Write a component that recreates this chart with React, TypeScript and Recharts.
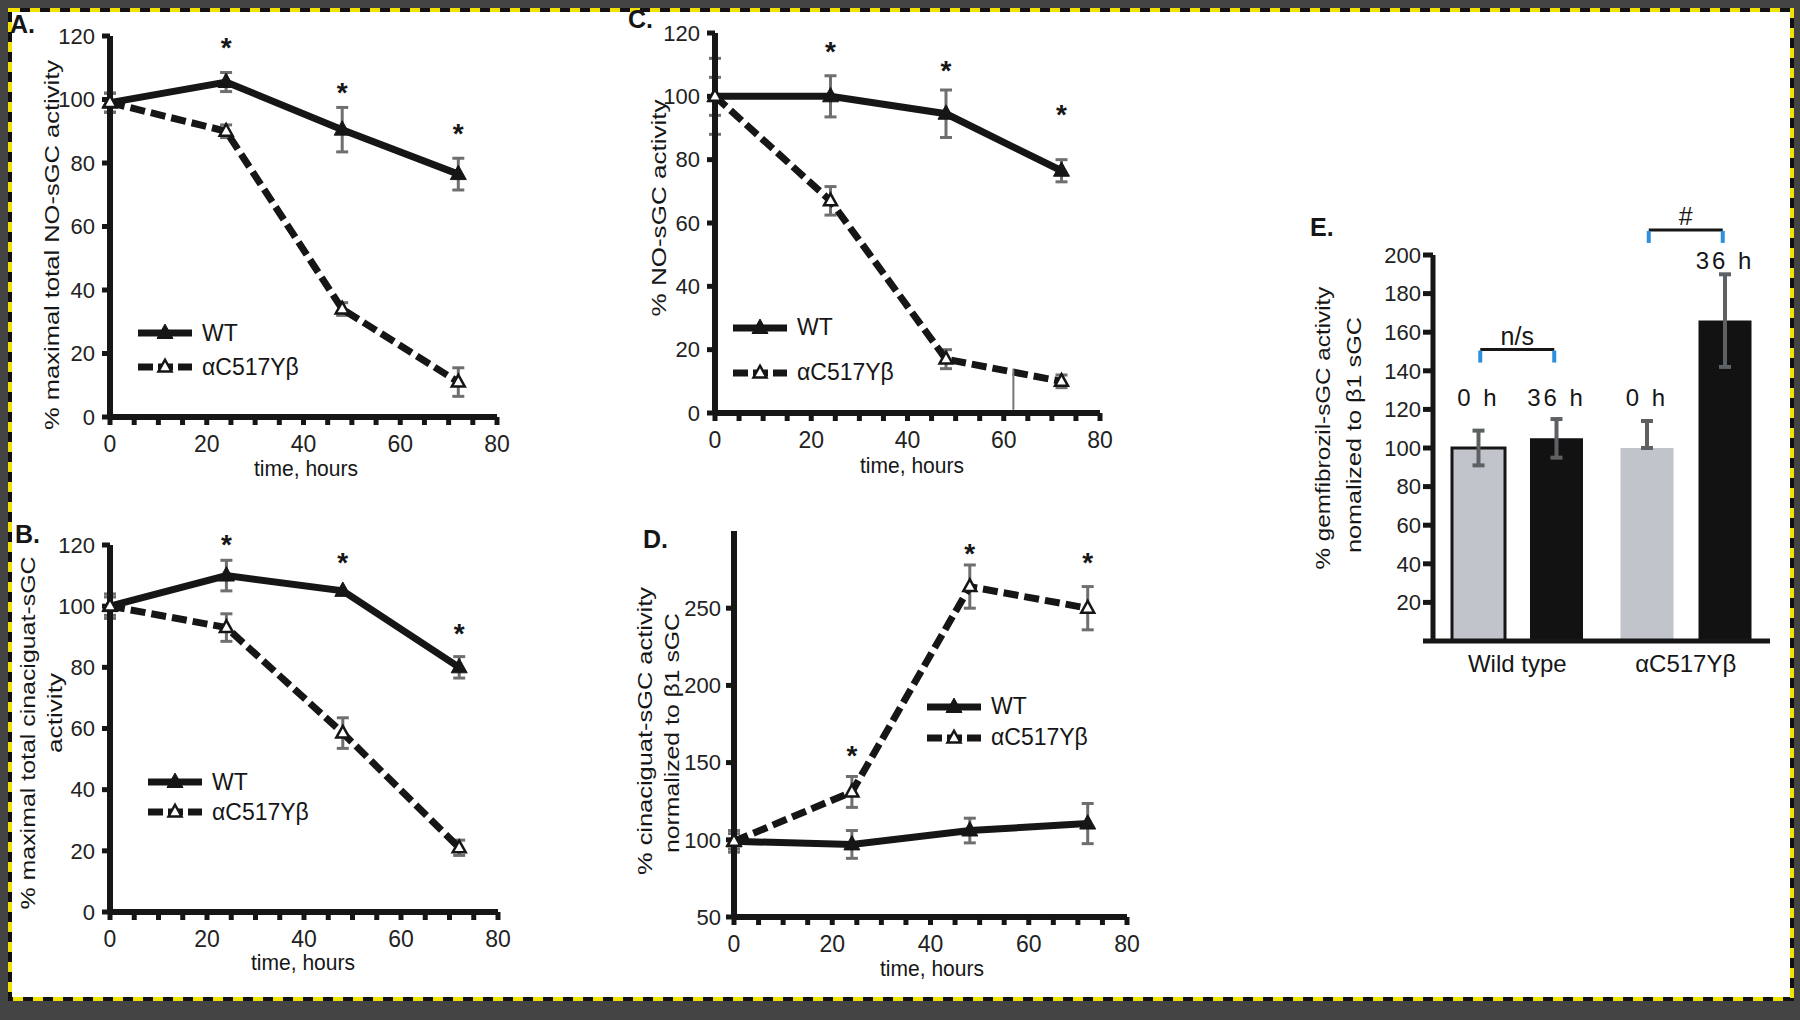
import React from 'react';
import {
  ComposedChart, Line, Bar, Cell, XAxis, YAxis, ErrorBar,
  ReferenceDot, ReferenceLine, Legend,
} from 'recharts';

const FONT = '"Liberation Sans", Arial, Helvetica, sans-serif';
const INK = '#161616';
const ERR = '#6d6f70';
const BLUE = '#2e8fdc';
const GREY_BAR = '#c1c4cb';

// shared
const hours = [0, 24, 48, 72];
const starHours = [24, 48, 72];
const xTicks = [0, 5, 10, 15, 20, 25, 30, 35, 40, 45, 50, 55, 60, 65, 70, 75, 80];
const xLabelled = [0, 20, 40, 60, 80];
const seriesNames = ['WT', 'αC517Yβ'];
const pctTicks = [0, 20, 40, 60, 80, 100, 120];

// A. % maximal total NO-sGC activity
const aWt = [99, 105.5, 90.5, 76.5];
const aWtErr = [3, 3, 7, 5];
const aMut = [99, 90, 34, 11];
const aMutErr = [3, 2, 2, 4.5];
const aStars = [118, 104, 91];

// B. % maximal total cinaciguat-sGC activity
const bWt = [100, 110, 105, 80];
const bWtErr = [4, 5, 0, 3.5];
const bMut = [100, 93, 58.5, 21];
const bMutErr = [3, 4.5, 5, 2.5];
const bStars = [122, 116, 93];

// C. % NO-sGC activity
const cWt = [100, 100, 94.5, 76.5];
const cWtErr = [12, 6.5, 7.5, 3.5];
const cMut = [100, 67, 17, 10];
const cMutErr = [6, 4.5, 3, 2];
const cStars = [116, 110, 96];
const cStrayAt = 62;
const cStray = [1, 14];

// D. % cinaciguat-sGC activity normalized to b1 sGC
const dWt = [99, 97, 106, 110.5];
const dWtErr = [7, 9, 8, 13];
const dMut = [99, 131, 264, 250];
const dMutErr = [5, 10, 14, 14];
const dStars = [158, 289, 283];
const dTicks = [50, 100, 150, 200, 250];

// E. gemfibrozil bars
const groups = ['Wild type', 'αC517Yβ'];
const h0 = [100, 100];
const h0Err: (number | number[])[] = [9, [0, 14]];
const h36 = [105, 166];
const h36Err = [10, 24];
const h0LabelAt = [126, 126];
const h36LabelAt = [126, 197];
const bracketAt = [151, 213];
const bracketMarks = ['n/s', '#'];
const eTicks = [0, 20, 40, 60, 80, 100, 120, 140, 160, 180, 200];
const h0Outline = [INK, 'none'];

const rows = (wt: number[], wtErr: number[], mut: number[], mutErr: number[]) =>
  hours.map((h, i) => ({ h, wt: wt[i], wtErr: wtErr[i], mut: mut[i], mutErr: mutErr[i] }));

const eRows = groups.map((cat, i) => ({ cat, h0: h0[i], h0Err: h0Err[i], h36: h36[i], h36Err: h36Err[i] }));

function Tri({ cx, cy, size, filled }: { cx?: number; cy?: number; size: number; filled: boolean }) {
  if (cx == null || cy == null) return null;
  const h = size * 0.9;
  const pts = `${cx},${cy - h * 0.62} ${cx - size / 2},${cy + h * 0.38} ${cx + size / 2},${cy + h * 0.38}`;
  return <polygon points={pts} fill={filled ? INK : '#fff'} stroke={INK} strokeWidth={filled ? 1 : 2.5} />;
}

type Title = { text: string; x: number; y: number; len: number };

const titles = (items: Title[], rotate: boolean, size = 21) => () => (
  <g>
    {items.map((t) => (
      <text
        key={t.text}
        x={t.x}
        y={t.y}
        transform={rotate ? `rotate(-90 ${t.x} ${t.y})` : undefined}
        textAnchor="middle"
        dominantBaseline="central"
        fontFamily={FONT}
        fontSize={size}
        fill={INK}
        textLength={t.len}
        lengthAdjust="spacingAndGlyphs"
      >
        {t.text}
      </text>
    ))}
  </g>
);

function LegendRows({ row }: { row: number }) {
  return (
    <div style={{ fontFamily: FONT, fontSize: 23, color: INK, lineHeight: 1 }}>
      {seriesNames.map((name, i) => (
        <div key={name} style={{ display: 'flex', alignItems: 'center', height: row }}>
          <svg width={54} height={24} style={{ display: 'block' }}>
            <line x1={0} y1={12} x2={54} y2={12} stroke={INK} strokeWidth={7}
              strokeDasharray={i ? '15 5' : undefined} />
            <Tri cx={27} cy={12} size={i ? 13 : 16} filled={i === 0} />
          </svg>
          <span style={{ marginLeft: 10 }}>{name}</span>
        </div>
      ))}
    </div>
  );
}

const star = (p: any) => (
  <text x={p.cx} y={p.cy + 15} textAnchor="middle" fontFamily={FONT} fontSize={28} fontWeight="bold" fill={INK}>*</text>
);

function TimePanel(props: any) {
  const { pos, margin, yWidth, xHeight, data, yDomain, yTicks, yTickMargin, stars, yTitle, xTitle, legend, children } = props;
  return (
    <div style={{ position: 'absolute', left: pos.left, top: pos.top }}>
      <ComposedChart width={pos.width} height={pos.height} data={data} margin={margin}>
        <XAxis
          type="number" dataKey="h" domain={[0, 80]} ticks={xTicks} interval={0} height={xHeight}
          tickSize={8} tickMargin={11}
          tickFormatter={(v: number) => (xLabelled.includes(v) ? String(v) : '')}
          axisLine={{ stroke: INK, strokeWidth: 6 }} tickLine={{ stroke: INK, strokeWidth: 5 }}
          tick={{ fill: '#222', fontSize: 23, fontFamily: FONT }}
          label={titles([{ text: 'time, hours', x: xTitle.x, y: xTitle.y, len: 104 }], false, 22)}
        />
        <YAxis
          type="number" domain={yDomain} ticks={yTicks} interval={0} width={yWidth} allowDataOverflow
          tickSize={8} tickMargin={yTickMargin}
          axisLine={{ stroke: INK, strokeWidth: 6 }} tickLine={{ stroke: INK, strokeWidth: 5 }}
          tick={{ fill: '#222', fontSize: 22, fontFamily: FONT }}
          label={titles(yTitle, true)}
        />
        <Line
          type="linear" dataKey="wt" stroke={INK} strokeWidth={7} isAnimationActive={false} activeDot={false}
          dot={(p: any) => <Tri key={`wt-${p.index}`} cx={p.cx} cy={p.cy} size={16} filled />}
        >
          <ErrorBar dataKey="wtErr" direction="y" width={6} strokeWidth={3} stroke={ERR} isAnimationActive={false} />
        </Line>
        <Line
          type="linear" dataKey="mut" stroke={INK} strokeWidth={7} strokeDasharray="15 6"
          isAnimationActive={false} activeDot={false}
          dot={(p: any) => <Tri key={`mut-${p.index}`} cx={p.cx} cy={p.cy} size={13} filled={false} />}
        >
          <ErrorBar dataKey="mutErr" direction="y" width={6} strokeWidth={3} stroke={ERR} isAnimationActive={false} />
        </Line>
        {starHours.map((h, i) => (
          <ReferenceDot key={`s${h}`} x={h} y={stars[i]} ifOverflow="visible" shape={star} />
        ))}
        {children}
        <Legend
          layout="vertical" align="center" verticalAlign="middle"
          wrapperStyle={{ left: legend.left, top: legend.top, width: 240, height: legend.row * 2 }}
          content={() => <LegendRows row={legend.row} />}
        />
      </ComposedChart>
    </div>
  );
}

const barTag = (tag: string, at: number[]) => (p: any) => {
  const vb = p.viewBox && p.viewBox.width != null ? p.viewBox : p;
  const raw = Array.isArray(p.value) ? p.value[1] : p.value;
  const base = vb.y + vb.height;
  const py = base - (at[p.index] * vb.height) / raw;
  return (
    <text key={`${tag}-${p.index}`} x={vb.x + vb.width / 2} y={py} textAnchor="middle" dominantBaseline="central"
      fontFamily={FONT} fontSize={24} letterSpacing={3} fill={INK}>
      {tag}
    </text>
  );
};

const bracket = (mark: string) => (p: any) => (
  <g>
    <line x1={p.cx - 37} x2={p.cx + 37} y1={p.cy} y2={p.cy} stroke={INK} strokeWidth={3} />
    <line x1={p.cx - 37} x2={p.cx - 37} y1={p.cy + 1} y2={p.cy + 13} stroke={BLUE} strokeWidth={4} />
    <line x1={p.cx + 37} x2={p.cx + 37} y1={p.cy + 1} y2={p.cy + 13} stroke={BLUE} strokeWidth={4} />
    <text x={p.cx} y={p.cy - 5} textAnchor="middle" fontFamily={FONT} fontSize={25} fill={INK}>{mark}</text>
  </g>
);

function BarPanel() {
  return (
    <div style={{ position: 'absolute', left: 1260, top: 200 }}>
      <ComposedChart width={530} height={500} data={eRows} margin={{ top: 55, right: 20, bottom: 9, left: 0 }} barGap={25}>
        <XAxis
          type="category" dataKey="cat" height={50} tickLine={false} tickSize={0} tickMargin={14}
          axisLine={{ stroke: INK, strokeWidth: 5 }}
          tick={{ fill: INK, fontSize: 24, fontFamily: FONT }}
        />
        <YAxis
          type="number" domain={[0, 200]} ticks={eTicks} interval={0} width={173}
          tickSize={10} tickMargin={2} tickFormatter={(v: number) => (v === 0 ? '' : String(v))}
          axisLine={{ stroke: INK, strokeWidth: 5 }} tickLine={{ stroke: INK, strokeWidth: 5 }}
          tick={{ fill: '#222', fontSize: 22, fontFamily: FONT }}
          label={titles([
            { text: '% gemfibrozil-sGC activity', x: 62, y: 228, len: 283 },
            { text: 'nomalized to β1 sGC', x: 93, y: 235, len: 236 },
          ], true)}
        />
        <Bar dataKey="h0" barSize={53} isAnimationActive={false} label={barTag('0 h', h0LabelAt)}>
          {h0.map((_, i) => (
            <Cell key={`c0-${i}`} fill={GREY_BAR} stroke={h0Outline[i]} strokeWidth={3} />
          ))}
          <ErrorBar dataKey="h0Err" direction="y" width={6} strokeWidth={4} stroke="#5d6163" isAnimationActive={false} />
        </Bar>
        <Bar dataKey="h36" barSize={53} fill="#121212" isAnimationActive={false} label={barTag('36 h', h36LabelAt)}>
          <ErrorBar dataKey="h36Err" direction="y" width={6} strokeWidth={4} stroke="#5d6163" isAnimationActive={false} />
        </Bar>
        {groups.map((g, i) => (
          <ReferenceDot key={`b${i}`} x={g} y={bracketAt[i]} ifOverflow="visible" shape={bracket(bracketMarks[i])} />
        ))}
      </ComposedChart>
    </div>
  );
}

export default function App() {
  const letter = { fontFamily: FONT, fontSize: 25, fontWeight: 'bold' as const, fill: INK };
  return (
    <div style={{ position: 'absolute', left: 0, top: 0, width: 1800, height: 1020, background: '#444', overflow: 'hidden' }}>
      <div style={{ position: 'absolute', left: 8, top: 8, width: 1786, height: 993, background: '#fff' }} />
      <svg width={1800} height={1020} style={{ position: 'absolute', left: 0, top: 0 }}>
        <rect x={10} y={10} width={1782} height={989} fill="none" stroke="#111" strokeWidth={4} />
        <rect x={10} y={10} width={1782} height={989} fill="none" stroke="#f2e200" strokeWidth={4} strokeDasharray="10 10" />
        <text x={10} y={33} {...letter}>A.</text>
        <text x={15} y={543} {...letter}>B.</text>
        <text x={628} y={28} {...letter}>C.</text>
        <text x={643} y={548} {...letter}>D.</text>
        <text x={1310} y={236} {...letter}>E.</text>
      </svg>

      <TimePanel
        pos={{ left: 10, top: 20, width: 520, height: 470 }}
        margin={{ top: 16, right: 33, bottom: 23, left: 0 }}
        yWidth={100} xHeight={50} yTickMargin={7}
        data={rows(aWt, aWtErr, aMut, aMutErr)} yDomain={[0, 120]} yTicks={pctTicks} stars={aStars}
        yTitle={[{ text: '% maximal total NO-sGC activity', x: 41, y: 225, len: 370 }]}
        xTitle={{ x: 296, y: 448 }}
        legend={{ left: 128, top: 296, row: 34 }}
      />

      <TimePanel
        pos={{ left: 0, top: 500, width: 530, height: 480 }}
        margin={{ top: 45, right: 32, bottom: 18, left: 0 }}
        yWidth={110} xHeight={50} yTickMargin={7}
        data={rows(bWt, bWtErr, bMut, bMutErr)} yDomain={[0, 120]} yTicks={pctTicks} stars={bStars}
        yTitle={[
          { text: '% maximal total cinaciguat-sGC', x: 27, y: 233, len: 353 },
          { text: 'activity', x: 54, y: 213, len: 80 },
        ]}
        xTitle={{ x: 303, y: 462 }}
        legend={{ left: 148, top: 267, row: 30 }}
      />

      <TimePanel
        pos={{ left: 620, top: 20, width: 500, height: 470 }}
        margin={{ top: 13, right: 20, bottom: 27, left: 0 }}
        yWidth={95} xHeight={50} yTickMargin={7}
        data={rows(cWt, cWtErr, cMut, cMutErr)} yDomain={[0, 120]} yTicks={pctTicks} stars={cStars}
        yTitle={[{ text: '% NO-sGC activity', x: 38, y: 188, len: 217 }]}
        xTitle={{ x: 292, y: 445 }}
        legend={{ left: 113, top: 285, row: 45 }}
      >
        <ReferenceLine
          segment={[{ x: cStrayAt, y: cStray[0] }, { x: cStrayAt, y: cStray[1] }]}
          stroke="#777" strokeWidth={2} ifOverflow="visible"
        />
      </TimePanel>

      <TimePanel
        pos={{ left: 620, top: 500, width: 530, height: 480 }}
        margin={{ top: 31, right: 23, bottom: 18, left: 0 }}
        yWidth={114} xHeight={45} yTickMargin={5}
        data={rows(dWt, dWtErr, dMut, dMutErr)} yDomain={[50, 300]} yTicks={dTicks} stars={dStars}
        yTitle={[
          { text: '% cinaciguat-sGC activity', x: 24, y: 231, len: 288 },
          { text: 'normalized to β1 sGC', x: 51, y: 233, len: 240 },
        ]}
        xTitle={{ x: 312, y: 468 }}
        legend={{ left: 307, top: 191, row: 31 }}
      />

      <BarPanel />
    </div>
  );
}
